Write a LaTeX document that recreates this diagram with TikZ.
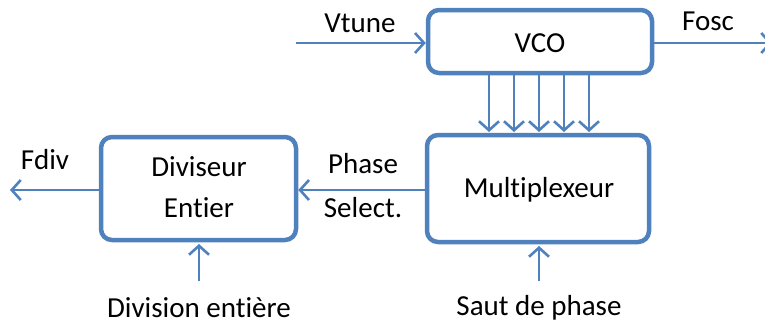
\documentclass[tikz,border=0pt]{standalone}
\usepackage{fontspec}
\setmainfont{Carlito}[Ligatures={NoCommon}]
\usetikzlibrary{arrows.meta}
\definecolor{obl}{HTML}{4F81BD}
\begin{document}
\begin{tikzpicture}[x=1pt,y=-1pt,
  blk/.style={draw=obl,line width=4.5pt,rounded corners=11pt,fill=white},
  sig/.style={draw=obl,line width=2.6pt,-{Straight Barb[length=9pt,width=20pt,line width=2.6pt]}},
  lbl/.style={font=\fontsize{29}{34}\selectfont,inner sep=0pt}]
\useasboundingbox (0,0) rectangle (765,324);
\node[blk,minimum width=224pt,minimum height=63pt] (vco) at (540,41.5) {};
\node[lbl] at (540,43) {VCO};
\node[blk,minimum width=222pt,minimum height=107pt] (mux) at (538,188.5) {};
\node[lbl] at (539,190) {Multiplexeur};
\node[blk,minimum width=195pt,minimum height=103pt] (div) at (198.5,188.5) {};
\node[lbl] at (199,167) {Diviseur};
\node[lbl] at (199,208) {Entier};
% inputs/outputs
\coordinate (vin) at (296,43);
\coordinate (vout) at (772,43);
\coordinate (fdiv) at (10,190);
\coordinate (sdp) at (539,281);
\coordinate (dent) at (199,281);
\draw[sig] (vin) -- (vco.west |- vin);
\draw[sig] (vco.east |- vout) -- (vout);
\foreach \xx in {489,514,539,564,589}{
  \draw[sig] (\xx,75) -- (\xx,132);
}
\draw[sig] (mux.west |- 0,190) -- (div.east |- 0,190);
\draw[sig] (div.west |- fdiv) -- (fdiv);
\draw[sig] (sdp) -- (539,246);
\draw[sig] (dent) -- (199,244);
\node[lbl] (lvt) at (360,23) {Vtune};
\node[lbl] (lfo) at (708,21) {Fosc};
\node[lbl] (lfd) at (45,160) {Fdiv};
\node[lbl] (lph) at (363,164) {Phase};
\node[lbl] (lse) at (363,208) {Select.};
\node[lbl] (lsp) at (539,308) {Saut de phase};
\node[lbl] (lde) at (199,308) {Division entière};
\end{tikzpicture}
\end{document}
